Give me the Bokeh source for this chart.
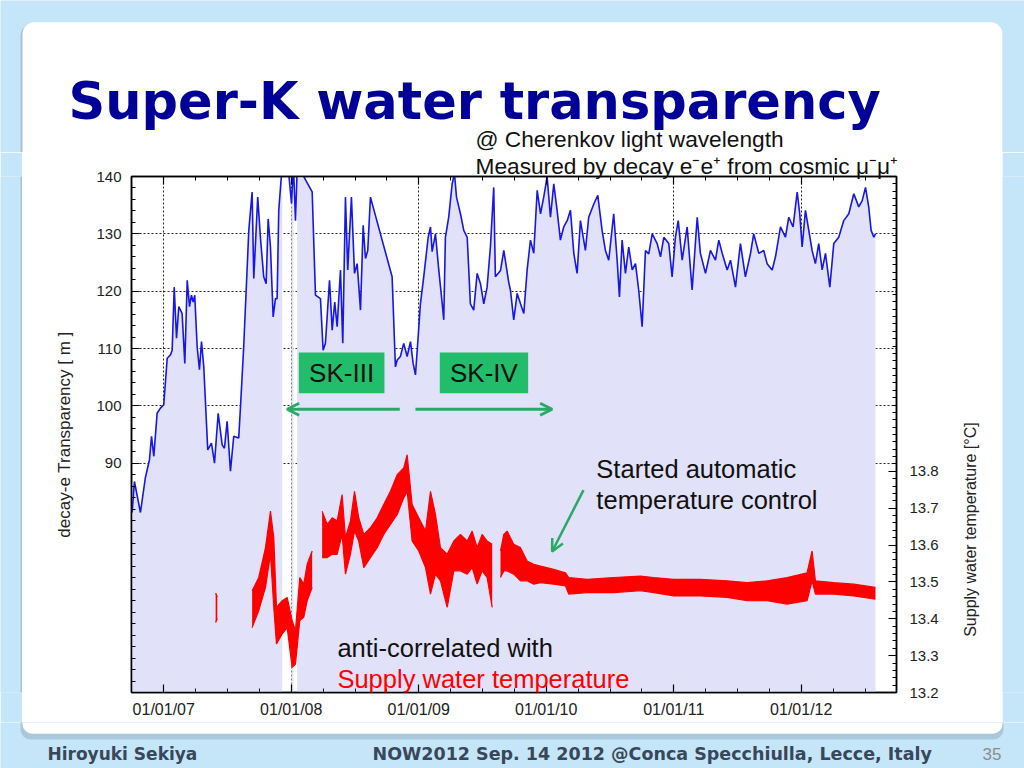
import math
from bokeh.plotting import figure
from bokeh.layouts import column, row
from bokeh.models import (Range1d, LinearAxis, FixedTicker, Label, BoxAnnotation,
                          Arrow, OpenHead, Title)
from bokeh.embed import file_html
from bokeh.resources import INLINE

# ---------------- data ----------------
# decay-e transparency [m] vs. time (decimal year)
transp_year = [
    2006.752, 2006.770, 2006.817, 2006.856, 2006.888, 2006.904, 2006.922, 2006.948, 2006.974, 2007.000,
    2007.027, 2007.053, 2007.066, 2007.082, 2007.100, 2007.118, 2007.144, 2007.165, 2007.184, 2007.202,
    2007.217, 2007.231, 2007.243, 2007.262, 2007.280, 2007.296, 2007.314, 2007.345, 2007.374, 2007.398,
    2007.427, 2007.458, 2007.476, 2007.497, 2007.523, 2007.549, 2007.588, 2007.602, 2007.627, 2007.667,
    2007.693, 2007.706, 2007.737, 2007.758, 2007.784, 2007.803, 2007.819, 2007.837, 2007.858, 2007.876,
    2007.889, 2007.902, 2007.929, 2007.970, 2008.002, 2008.017, 2008.033, 2008.046, 2008.085, 2008.164,
    2008.190, 2008.229, 2008.250, 2008.268, 2008.300, 2008.321, 2008.341, 2008.360, 2008.386, 2008.404,
    2008.425, 2008.443, 2008.472, 2008.496, 2008.517, 2008.543, 2008.564, 2008.582, 2008.600, 2008.621,
    2008.791, 2008.817, 2008.831, 2008.856, 2008.882, 2008.909, 2008.935, 2008.956, 2008.974, 2008.987,
    2009.013, 2009.039, 2009.074, 2009.092, 2009.105, 2009.131, 2009.157, 2009.184, 2009.196, 2009.209,
    2009.235, 2009.262, 2009.280, 2009.296, 2009.327, 2009.353, 2009.380, 2009.405, 2009.431, 2009.458,
    2009.484, 2009.510, 2009.536, 2009.562, 2009.588, 2009.601, 2009.641, 2009.667, 2009.706, 2009.719,
    2009.745, 2009.772, 2009.798, 2009.824, 2009.850, 2009.876, 2009.902, 2009.929, 2009.955, 2009.980,
    2010.007, 2010.033, 2010.059, 2010.085, 2010.111, 2010.137, 2010.164, 2010.190, 2010.216, 2010.242,
    2010.268, 2010.307, 2010.333, 2010.373, 2010.404, 2010.438, 2010.464, 2010.490, 2010.529, 2010.556,
    2010.574, 2010.595, 2010.621, 2010.647, 2010.674, 2010.700, 2010.725, 2010.752, 2010.778, 2010.804,
    2010.831, 2010.870, 2010.896, 2010.922, 2010.961, 2010.987, 2011.013, 2011.035, 2011.066, 2011.105,
    2011.144, 2011.184, 2011.209, 2011.249, 2011.288, 2011.327, 2011.353, 2011.380, 2011.419, 2011.445,
    2011.484, 2011.523, 2011.562, 2011.602, 2011.627, 2011.667, 2011.706, 2011.732, 2011.772, 2011.798,
    2011.837, 2011.876, 2011.902, 2011.936, 2011.968, 2011.988, 2012.007, 2012.033, 2012.059, 2012.085,
    2012.111, 2012.137, 2012.164, 2012.190, 2012.224, 2012.255, 2012.294, 2012.333, 2012.373, 2012.412,
    2012.451, 2012.478, 2012.504, 2012.529, 2012.548, 2012.569, 2012.582,
]
transp_m = [
    81.4, 86.8, 81.4, 87.5, 90.6, 94.7, 91.2, 98.7, 99.6, 100.2,
    108.3, 108.9, 109.7, 120.7, 111.8, 117.3, 116.1, 107.4, 121.9, 117.3,
    119.3, 118.1, 119.3, 110.3, 106.3, 111.2, 106.8, 92.3, 93.5, 90.0,
    98.7, 93.2, 92.6, 97.3, 88.6, 94.7, 94.4, 99.9, 110.3, 130.6,
    137.3, 122.2, 136.4, 129.4, 122.5, 121.3, 132.6, 127.7, 115.5, 118.7,
    118.7, 134.1, 142.0, 143.0, 135.3, 142.0, 132.3, 141.0, 140.5, 137.3,
    119.3, 118.7, 109.7, 110.9, 121.9, 113.2, 118.1, 113.8, 123.7, 110.9,
    136.4, 123.7, 136.4, 123.1, 124.8, 116.7, 131.5, 125.7, 127.1, 136.4,
    122.5, 106.8, 108.0, 108.6, 110.9, 108.6, 111.2, 107.4, 105.4, 109.4,
    117.8, 122.5, 129.4, 131.2, 126.9, 130.0, 123.7, 117.8, 115.0, 129.4,
    132.9, 138.7, 140.5, 136.4, 133.5, 130.6, 129.4, 117.8, 116.7, 123.1,
    121.3, 117.8, 120.7, 127.7, 138.1, 122.5, 123.6, 127.1, 121.5, 120.2,
    115.0, 119.6, 117.8, 116.1, 123.7, 128.9, 126.6, 137.6, 133.5, 136.4,
    139.9, 132.9, 138.7, 134.1, 128.9, 131.2, 132.3, 134.1, 126.6, 123.1,
    132.3, 127.1, 132.9, 135.2, 136.7, 130.6, 127.1, 125.4, 133.5, 125.4,
    119.0, 128.9, 123.1, 127.7, 123.7, 124.8, 120.2, 113.8, 127.1, 126.5,
    130.0, 128.3, 126.0, 129.4, 128.3, 122.5, 129.4, 132.3, 125.4, 131.2,
    120.2, 132.9, 126.6, 123.1, 127.1, 125.4, 128.9, 126.6, 123.7, 125.4,
    120.7, 128.3, 122.5, 126.6, 130.0, 126.6, 127.1, 124.8, 123.7, 126.0,
    131.2, 129.4, 132.9, 131.2, 137.3, 133.5, 127.7, 134.1, 130.6, 127.1,
    124.8, 128.3, 123.7, 126.6, 120.7, 128.3, 129.4, 132.3, 133.5, 137.0,
    134.7, 135.8, 138.1, 134.7, 130.6, 129.4, 130.0,
]
assert len(transp_year) == len(transp_m)

# periods without the filled area (data gaps)
fill_gap_start = [2007.932, 2008.020]
fill_gap_end = [2007.994, 2008.044]

# supply water temperature [C]: band (low/high) vs. time; None = break
temp_year = [
    2007.407, 2007.420, None,
    2007.693, 2007.745, 2007.798, 2007.837, 2007.863, 2007.884, 2007.929, 2007.968, 2008.007, 2008.033,
    2008.067, 2008.098, 2008.125, 2008.164, None,
    2008.242, 2008.282, 2008.321, 2008.360, 2008.399, 2008.425, 2008.464, 2008.496, 2008.529, 2008.569,
    2008.621, 2008.674, 2008.725, 2008.778, 2008.831, 2008.882, 2008.909, 2008.948, 2009.000, 2009.053,
    2009.092, 2009.131, 2009.170, 2009.223, 2009.275, 2009.327, 2009.380, 2009.419, 2009.458, 2009.497,
    2009.536, 2009.576, None,
    2009.641, 2009.667, 2009.693, 2009.745, 2009.798, 2009.850, 2009.902, 2009.955, 2010.059, 2010.151,
    2010.176, 2010.321, 2010.529, 2010.739, 2010.843, 2011.000, 2011.209, 2011.419, 2011.576, 2011.732,
    2011.889, 2012.046, 2012.085, 2012.111, 2012.255, 2012.412, 2012.582,
]
temp_high = [
    13.47, 13.46, None,
    13.476, 13.512, 13.593, 13.692, 13.620, 13.431, 13.449, 13.458, 13.395, 13.368,
    13.512, 13.494, 13.548, 13.584, None,
    13.692, 13.656, 13.674, 13.665, 13.737, 13.620, 13.665, 13.746, 13.674, 13.629,
    13.647, 13.674, 13.710, 13.746, 13.791, 13.809, 13.845, 13.710, 13.674, 13.638,
    13.746, 13.683, 13.593, 13.575, 13.611, 13.629, 13.611, 13.638, 13.593, 13.629,
    13.611, 13.602, None,
    13.584, 13.629, 13.638, 13.602, 13.593, 13.557, 13.548, 13.543, 13.534, 13.525,
    13.512, 13.507, 13.512, 13.516, 13.512, 13.507, 13.507, 13.503, 13.498, 13.503,
    13.512, 13.525, 13.584, 13.503, 13.498, 13.494, 13.485,
]
temp_low = [
    13.39, 13.40, None,
    13.376, 13.422, 13.485, 13.575, 13.431, 13.332, 13.359, 13.376, 13.268, 13.277,
    13.395, 13.404, 13.449, 13.485, None,
    13.566, 13.566, 13.575, 13.575, 13.629, 13.521, 13.575, 13.638, 13.611, 13.539,
    13.566, 13.593, 13.629, 13.656, 13.683, 13.728, 13.746, 13.611, 13.584, 13.539,
    13.467, 13.521, 13.503, 13.431, 13.530, 13.530, 13.521, 13.539, 13.494, 13.530,
    13.512, 13.431, None,
    13.512, 13.530, 13.530, 13.521, 13.503, 13.503, 13.494, 13.498, 13.494, 13.489,
    13.467, 13.471, 13.471, 13.476, 13.471, 13.462, 13.462, 13.458, 13.449, 13.449,
    13.440, 13.449, 13.503, 13.467, 13.467, 13.462, 13.453,
]
assert len(temp_year) == len(temp_high) == len(temp_low)

# axes
year_ticks = [2007, 2008, 2009, 2010, 2011, 2012]
year_labels = ["01/01/07", "01/01/08", "01/01/09", "01/01/10", "01/01/11", "01/01/12"]
transp_ticks = [90, 100, 110, 120, 130, 140]
temp_ticks = [13.2, 13.3, 13.4, 13.5, 13.6, 13.7, 13.8]
temp_labels = ["13.2", "13.3", "13.4", "13.5", "13.6", "13.7", "13.8"]

X_START, X_END = 2006.747, 2012.747
Y_START, Y_END = 50, 140
T_START, T_END = 13.2, 14.6

BG = "#c5e6f8"
SHADOW = "#a6c2d6"
TEXT = "#111111"


# ---------------- decoration figures (slide background) ----------------
def deco_fig(w, h, bg):
    f = figure(width=w, height=h, output_backend="svg", toolbar_location=None,
               x_range=Range1d(0, w), y_range=Range1d(0, h), title=None,
               x_axis_type=None, y_axis_type=None,
               min_border_left=0, min_border_right=0, min_border_top=0, min_border_bottom=0,
               background_fill_color=bg, border_fill_color=bg, outline_line_color=None)
    return f


def box(f, left, right, bottom, top, color, radius=0, alpha=1.0):
    f.add_layout(BoxAnnotation(left=left, right=right, bottom=bottom, top=top,
                               fill_color=color, fill_alpha=alpha, line_color=None,
                               border_radius=radius, level="image"))


HH = 152  # header height (page y 0 .. 152); y measured upwards from its bottom edge
header = deco_fig(1024, HH, BG)
box(header, 20, 1002, -40, HH - 23.5, SHADOW, 12)
box(header, 22, 1002, -40, HH - 21.7, "white", 12)
header.add_layout(Label(x=68, y=HH - 118 + 17, text="Super-K water transparency",
                        text_font="DejaVu Sans", text_font_style="bold",
                        text_font_size="51px", text_color="#000099",
                        text_baseline="alphabetic"))
header.add_layout(Label(x=475, y=HH - 146 + 7.5, text="@ Cherenkov light wavelength",
                        text_font="Liberation Sans", text_font_size="22.7px",
                        text_color=TEXT, text_baseline="alphabetic"))

# footer: y measured upwards from the page bottom (page y = 768)
footer = deco_fig(1024, 46, BG)
box(footer, 20, 1003, 29, 100, SHADOW, 10, 0.85)
box(footer, 22, 1002, 34.7, 100, "white", 10)
FOOT = "#38475a"
footer.add_layout(Label(x=47, y=14.5, text="Hiroyuki Sekiya", text_font="DejaVu Sans",
                        text_font_style="bold", text_font_size="17px", text_color=FOOT,
                        text_baseline="alphabetic"))
footer.add_layout(Label(x=372, y=14.5, text="NOW2012  Sep. 14 2012  @Conca Specchiulla, Lecce, Italy",
                        text_font="DejaVu Sans", text_font_style="bold", text_font_size="17.5px",
                        text_color=FOOT, text_baseline="alphabetic"))
footer.add_layout(Label(x=1001, y=14.5, text="35", text_font="Liberation Sans",
                        text_font_size="17px", text_color="#8c8c8c", text_align="right",
                        text_baseline="alphabetic"))

CH = 722 - HH  # height of the chart row (page y 152 .. 722)
lstrip = deco_fig(22, CH, BG)
box(lstrip, 20, 22, -10, CH + 10, SHADOW)
rstrip = deco_fig(22, CH, BG)

rlab = deco_fig(52, CH, "white")
rlab.add_layout(Label(x=20, y=180, text="Supply water temperature [\u00b0C]",
                      angle=math.pi / 2, text_align="center", text_baseline="middle",
                      text_font="Liberation Sans", text_font_size="16px",
                      text_color="#222222"))

# ---------------- chart figure ----------------
p = figure(width=928, height=CH, output_backend="svg", toolbar_location=None, title=None,
           x_range=Range1d(X_START, X_END), y_range=Range1d(Y_START, Y_END),
           min_border_left=109, min_border_right=54, min_border_top=24,
           min_border_bottom=30, border_fill_color="white", background_fill_color="white")
p.extra_y_ranges = {"temp": Range1d(T_START, T_END)}
p.outline_line_color = "black"
p.outline_line_width = 1.5

bax = p.xaxis[0]
lax = p.yaxis[0]

quarter_ticks = [X_START + 0.003 + 0.25 * i for i in range(25)]


def style_axis(ax):
    ax.axis_line_color = "black"
    ax.axis_line_width = 1.5
    ax.major_tick_in = 8
    ax.major_tick_out = 0
    ax.minor_tick_in = 4
    ax.minor_tick_out = 0
    ax.major_tick_line_color = "black"
    ax.minor_tick_line_color = "black"
    ax.major_tick_line_width = 1.2
    ax.minor_tick_line_width = 1
    ax.major_label_text_font = "Liberation Sans"
    ax.major_label_text_font_size = "15px"
    ax.major_label_text_color = "#222222"


style_axis(bax)
bax.ticker = FixedTicker(ticks=year_ticks, minor_ticks=quarter_ticks)
bax.major_label_overrides = dict(zip(year_ticks, year_labels))
bax.major_label_text_font_size = "16px"
bax.major_label_standoff = 8

style_axis(lax)
lax.ticker = FixedTicker(ticks=transp_ticks, minor_ticks=list(range(Y_START, Y_END + 1, 2)))
lax.major_label_standoff = 10
lax.axis_label = "decay-e Transparency [ m ]"
lax.axis_label_text_font = "Liberation Sans"
lax.axis_label_text_font_style = "normal"
lax.axis_label_text_font_size = "17px"
lax.axis_label_text_color = "#222222"
lax.axis_label_standoff = 19

tax = LinearAxis(ticker=FixedTicker(ticks=year_ticks, minor_ticks=quarter_ticks))
style_axis(tax)
tax.major_label_overrides = {t: "" for t in year_ticks}
tax.major_label_text_font_size = "0px"
tax.major_label_standoff = 0
p.add_layout(tax, "above")

# second subtitle line sits in the band just above the plot frame
p.add_layout(Title(text="Measured by decay e\u207be\u207a from cosmic \u03bc\u207b\u03bc\u207a",
                   align="left", offset=344, standoff=-4, vertical_align="bottom",
                   text_font="Liberation Sans", text_font_size="22.7px",
                   text_font_style="normal", text_color=TEXT), "above")

temp_minor = [round(T_START + 0.02 * i, 2) for i in range(71)]
rax = LinearAxis(y_range_name="temp",
                 ticker=FixedTicker(ticks=temp_ticks, minor_ticks=temp_minor))
style_axis(rax)
rax.major_label_overrides = dict(zip(temp_ticks, temp_labels))
rax.major_label_standoff = 13
p.add_layout(rax, "right")

for g in (p.xgrid[0], p.ygrid[0]):
    g.grid_line_color = "black"
    g.grid_line_dash = "2 2"
    g.grid_line_width = 1
    g.grid_line_alpha = 0.85

# ---------------- data glyphs ----------------
FILL = "#e1e1fa"
runs = []
cx, cy = [], []
for x, y in zip(transp_year, transp_m):
    in_gap = any(s <= x <= e for s, e in zip(fill_gap_start, fill_gap_end))
    if in_gap:
        if cx:
            runs.append((cx, cy))
        cx, cy = [], []
    else:
        cx.append(x)
        cy.append(y)
if cx:
    runs.append((cx, cy))
for rx, ry in runs:
    p.varea(x=rx, y1=Y_START, y2=ry, fill_color=FILL, fill_alpha=1)

# temperature band
seg = ([], [], [])
tsegs = []
for x, hi, lo in zip(temp_year, temp_high, temp_low):
    if x is None:
        if seg[0]:
            tsegs.append(seg)
        seg = ([], [], [])
    else:
        seg[0].append(x)
        seg[1].append(hi)
        seg[2].append(lo)
if seg[0]:
    tsegs.append(seg)
for sx_, shi, slo in tsegs:
    p.varea(x=sx_, y1=slo, y2=shi, fill_color="#ff0000", y_range_name="temp")
    p.line(sx_, shi, line_color="#ff0000", line_width=1.2, y_range_name="temp")
    p.line(sx_, slo, line_color="#ff0000", line_width=1.2, y_range_name="temp")

p.line(transp_year, transp_m, line_color="#1616e6", line_width=1.6)

# ---------------- annotations inside the chart ----------------
GREEN_BOX = "#21bd6a"
GREEN_ARROW = "#2aa866"
for left, right, txt in ((2008.059, 2008.731, "SK-III"), (2009.165, 2009.858, "SK-IV")):
    p.add_layout(BoxAnnotation(left=left, right=right, bottom=102.2, top=109.3,
                               fill_color=GREEN_BOX, fill_alpha=1, line_color=None))
    p.add_layout(Label(x=(left + right) / 2, y=105.75, text=txt, text_align="center",
                       text_baseline="middle", text_font="Liberation Sans",
                       text_font_size="26px", text_color=TEXT))

p.add_layout(Arrow(end=OpenHead(size=12, line_color=GREEN_ARROW, line_width=3),
                   x_start=2008.851, y_start=99.4, x_end=2007.968, y_end=99.4,
                   line_color=GREEN_ARROW, line_width=3))
p.add_layout(Arrow(end=OpenHead(size=12, line_color=GREEN_ARROW, line_width=3),
                   x_start=2008.974, y_start=99.4, x_end=2010.046, y_end=99.4,
                   line_color=GREEN_ARROW, line_width=3))
p.add_layout(Arrow(end=OpenHead(size=12, line_color=GREEN_ARROW, line_width=2.5),
                   x_start=2010.292, y_start=85.3, x_end=2010.046, y_end=74.6,
                   line_color=GREEN_ARROW, line_width=2.5))

for txt, yy in (("Started automatic", 88.9), ("temperature control", 83.5)):
    p.add_layout(Label(x=2010.393, y=yy, text=txt, text_baseline="alphabetic",
                       text_font="Liberation Sans", text_font_size="25.5px",
                       text_color=TEXT))
p.add_layout(Label(x=2008.362, y=57.7, text="anti-correlated with", text_baseline="alphabetic",
                   text_font="Liberation Sans", text_font_size="25.5px", text_color=TEXT))
p.add_layout(Label(x=2008.362, y=52.4, text="Supply water temperature", text_baseline="alphabetic",
                   text_font="Liberation Sans", text_font_size="25.5px", text_color="#ff0000"))

# ---------------- page layout ----------------
page = column(header, row(lstrip, p, rlab, rstrip), footer)

open("out.html", "w").write(file_html(page, INLINE))
